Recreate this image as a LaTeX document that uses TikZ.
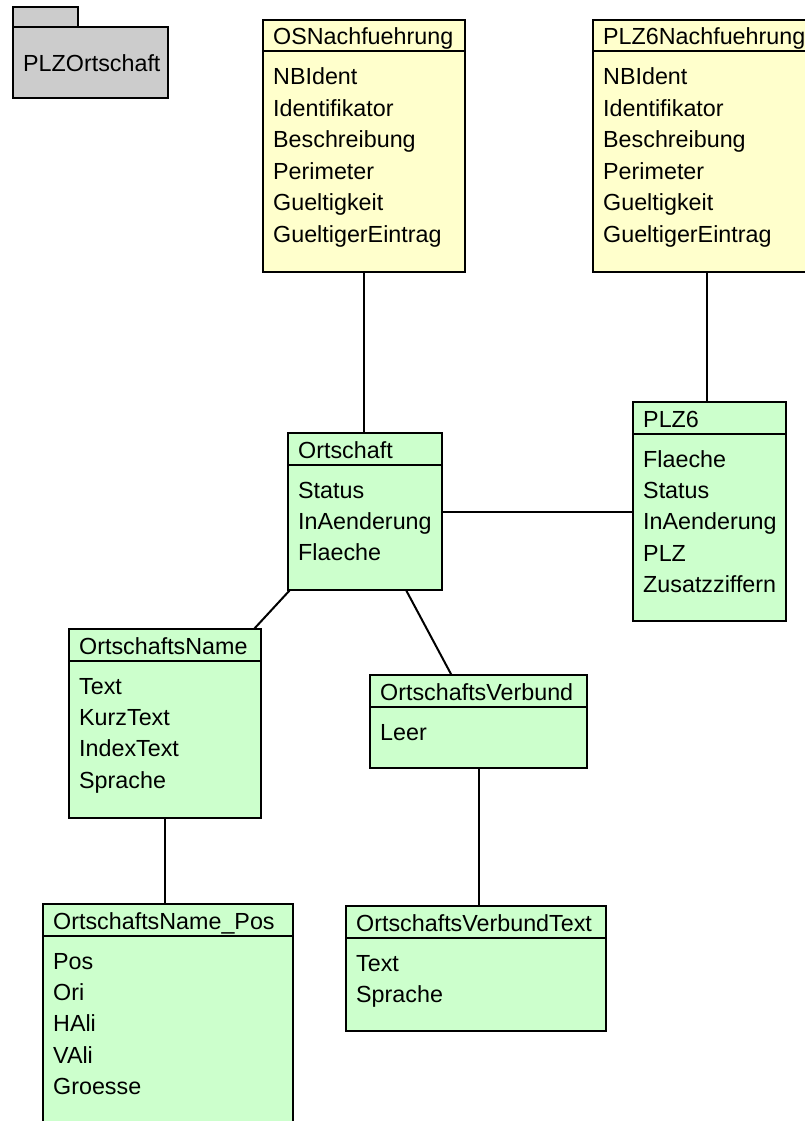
\documentclass[tikz,border=0pt]{standalone}
\usepackage{fontspec}
\setmainfont{Liberation Sans}
\definecolor{clsyellow}{HTML}{FFFFCC}
\definecolor{clsgreen}{HTML}{CCFFCC}
\definecolor{pkggray}{HTML}{CCCCCC}
\tikzset{
  clsbox/.style={draw, line width=2pt, anchor=north west, inner sep=0pt, outer sep=0pt},
  clstext/.style={anchor=base west, inner sep=0pt, font=\fontsize{23.3pt}{28pt}\selectfont},
  divider/.style={line width=2pt},
  assoc/.style={line width=2pt},
}
\begin{document}
\begin{tikzpicture}[x=1pt,y=-1pt]
  \useasboundingbox (0,0) rectangle (805,1121);
  \clip (0,0) rectangle (805,1121);

  % package
  \node[clsbox, fill=pkggray, minimum width=65pt, minimum height=20pt] (pkgtab) at (13,7) {};
  \node[clsbox, fill=pkggray, minimum width=155pt, minimum height=71pt] (pkg) at (13,27) {};
  \node[clstext] (pkg-t) at (23,72) {PLZOrtschaft};

  % classes
  \node[clsbox, fill=clsyellow, minimum width=202pt, minimum height=252pt] (osn) at (263,20) {};
  \node[clsbox, fill=clsyellow, minimum width=228pt, minimum height=252pt] (plzn) at (593,20) {};
  \node[clsbox, fill=clsgreen, minimum width=154pt, minimum height=157pt] (ort) at (288,433) {};
  \node[clsbox, fill=clsgreen, minimum width=153pt, minimum height=219pt] (plz6) at (633,402) {};
  \node[clsbox, fill=clsgreen, minimum width=192pt, minimum height=189pt] (on) at (69,629) {};
  \node[clsbox, fill=clsgreen, minimum width=217pt, minimum height=93pt] (ov) at (370,675) {};
  \node[clsbox, fill=clsgreen, minimum width=250pt, minimum height=240pt] (onp) at (43,904) {};
  \node[clsbox, fill=clsgreen, minimum width=260pt, minimum height=125pt] (ovt) at (346,906) {};

  % header lines
  \foreach \c in {osn,plzn,ort,plz6,on,ov,onp,ovt}
    \draw[divider] ([yshift=-31.5pt]\c.north west) -- ([yshift=-31.5pt]\c.north east);

  % names and attributes
  \node[clstext] (osn-h) at ([xshift=10pt,yshift=-25pt]osn.north west) {OSNachfuehrung};
  \foreach \a [count=\i] in {NBIdent,Identifikator,Beschreibung,Perimeter,Gueltigkeit,GueltigerEintrag}
    \node[clstext] (osn-\i) at ([xshift=10pt,yshift={-65pt-31.4pt*(\i-1)}]osn.north west) {\a};

  \node[clstext] (plzn-h) at ([xshift=10pt,yshift=-25pt]plzn.north west) {PLZ6Nachfuehrung};
  \foreach \a [count=\i] in {NBIdent,Identifikator,Beschreibung,Perimeter,Gueltigkeit,GueltigerEintrag}
    \node[clstext] (plzn-\i) at ([xshift=10pt,yshift={-65pt-31.4pt*(\i-1)}]plzn.north west) {\a};

  \node[clstext] (ort-h) at ([xshift=10pt,yshift=-25pt]ort.north west) {Ortschaft};
  \foreach \a [count=\i] in {Status,InAenderung,Flaeche}
    \node[clstext] (ort-\i) at ([xshift=10pt,yshift={-65pt-31.4pt*(\i-1)}]ort.north west) {\a};

  \node[clstext] (plz6-h) at ([xshift=10pt,yshift=-25pt]plz6.north west) {PLZ6};
  \foreach \a [count=\i] in {Flaeche,Status,InAenderung,PLZ,Zusatzziffern}
    \node[clstext] (plz6-\i) at ([xshift=10pt,yshift={-65pt-31.4pt*(\i-1)}]plz6.north west) {\a};

  \node[clstext] (on-h) at ([xshift=10pt,yshift=-25pt]on.north west) {OrtschaftsName};
  \foreach \a [count=\i] in {Text,KurzText,IndexText,Sprache}
    \node[clstext] (on-\i) at ([xshift=10pt,yshift={-65pt-31.4pt*(\i-1)}]on.north west) {\a};

  \node[clstext] (ov-h) at ([xshift=10pt,yshift=-25pt]ov.north west) {OrtschaftsVerbund};
  \node[clstext] (ov-1) at ([xshift=10pt,yshift=-65pt]ov.north west) {Leer};

  \node[clstext] (onp-h) at ([xshift=10pt,yshift=-25pt]onp.north west) {OrtschaftsName\_Pos};
  \foreach \a [count=\i] in {Pos,Ori,HAli,VAli,Groesse}
    \node[clstext] (onp-\i) at ([xshift=10pt,yshift={-65pt-31.4pt*(\i-1)}]onp.north west) {\a};

  \node[clstext] (ovt-h) at ([xshift=10pt,yshift=-25pt]ovt.north west) {OrtschaftsVerbundText};
  \foreach \a [count=\i] in {Text,Sprache}
    \node[clstext] (ovt-\i) at ([xshift=10pt,yshift={-65pt-31.4pt*(\i-1)}]ovt.north west) {\a};

  % associations
  \draw[assoc] (osn.south) -- (osn.south |- ort.north);
  \draw[assoc] (plzn.south) -- (plzn.south |- plz6.north);
  \draw[assoc] (ort.east) -- (ort.east -| plz6.west);
  \draw[assoc] ([xshift=2pt]ort.south west) -- ([xshift=-7pt]on.north east);
  \draw[assoc] ([xshift=41pt]ort.south) -- ([xshift=-27pt]ov.north);
  \draw[assoc] (on.south) -- (on.south |- onp.north);
  \draw[assoc] (ov.south) -- (ov.south |- ovt.north);
\end{tikzpicture}
\end{document}
